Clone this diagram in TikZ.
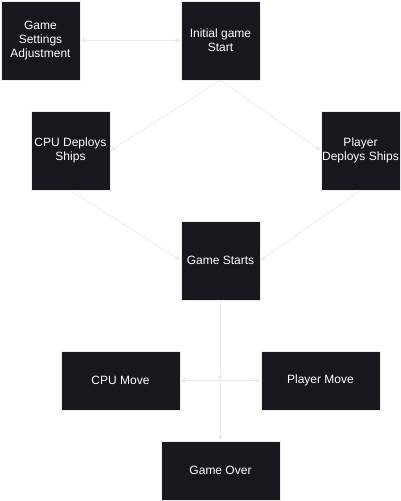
\documentclass[tikz,border=0pt]{standalone}
\usepackage{fontspec}
\setmainfont{Liberation Sans}
\usetikzlibrary{arrows.meta}
\definecolor{boxfill}{RGB}{24,23,29}
\definecolor{edgecol}{RGB}{236,236,236}
\begin{document}
\begin{tikzpicture}[x=1pt,y=-1pt,
  box/.style={draw=edgecol,line width=0.8pt,fill=boxfill,text=white,align=center,inner sep=0pt,
    font=\fontsize{12}{14}\selectfont},
  conn/.style={draw=edgecol,line width=0.8pt,-{Stealth[length=6pt,width=6pt]}},
  dconn/.style={draw=edgecol,line width=0.8pt,{Stealth[length=6pt,width=6pt]}-{Stealth[length=6pt,width=6pt]}}]
\useasboundingbox (0,0) rectangle (401,501);
\node[box,minimum width=79pt,minimum height=79pt] (settings) at (40.5,40.5) {Game\\Settings\\Adjustment};
\node[box,minimum width=79pt,minimum height=79pt] (init) at (220.5,40.5) {Initial game\\Start};
\node[box,minimum width=79pt,minimum height=79pt] (cpudep) at (70.5,150.5) {CPU Deploys\\Ships};
\node[box,minimum width=79pt,minimum height=79pt] (pldep) at (360.5,150.5) {Player\\Deploys Ships};
\node[box,minimum width=79pt,minimum height=79pt] (gstart) at (220.5,260.5) {Game Starts};
\node[box,minimum width=119pt,minimum height=59pt] (cpumove) at (120.5,380.5) {CPU Move};
\node[box,minimum width=119pt,minimum height=59pt] (plmove) at (320.5,380.5) {Player Move};
\node[box,minimum width=119pt,minimum height=59pt] (gover) at (220.5,470.5) {Game Over};
\coordinate (junc) at (220.5,380.5);
\draw[dconn] (settings.east) -- (init.west);
\draw[conn] (init.south) -- (cpudep.east);
\draw[conn] (init.south) -- (pldep.west);
\draw[conn] (cpudep.south) -- (gstart.west);
\draw[conn] (pldep.south) -- (gstart.east);
\draw[conn] (gstart.south) -- (junc);
\draw[dconn] (cpumove.east) -- (plmove.west);
\draw[conn] (junc) -- (gover.north);
\end{tikzpicture}
\end{document}
